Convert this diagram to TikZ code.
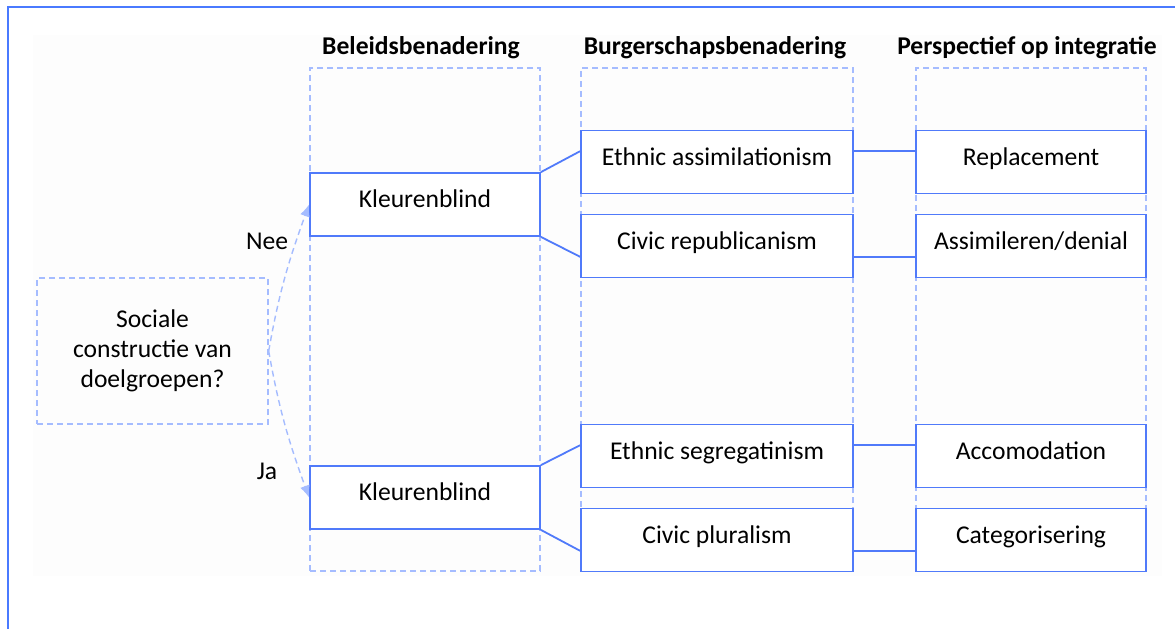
\documentclass[tikz,border=0pt]{standalone}
\usepackage{fontspec}
\setmainfont{Carlito}
\usetikzlibrary{arrows.meta, calc}
\definecolor{cFrame}{RGB}{74,122,255}
\definecolor{cLine}{RGB}{80,122,250}
\definecolor{cDash}{RGB}{165,188,255}
\tikzset{
	colbox/.style={rectangle, draw=cDash, line width=0.7pt, dash pattern=on 3pt off 2pt, minimum height=251.5pt},
	catbox/.style={rectangle, draw=cLine, fill=white, line width=0.9pt, minimum height=31.5pt, text height=8pt, text depth=5pt, font=\fontsize{12.8}{15}\selectfont},
	head/.style={font=\fontsize{12.8}{15}\selectfont\bfseries},
	conn/.style={draw=cLine, line width=0.9pt},
	flow/.style={draw=cDash, line width=0.7pt, dash pattern=on 3pt off 2pt, -{Latex[length=6pt,width=5pt]}},
}
\begin{document}
\begin{tikzpicture}[x=0.5pt, y=0.5pt]
	\useasboundingbox (0,0) rectangle (1175,-628);
	\clip (0,0) rectangle (1175,-628);
	\fill[black!0.6] (33,-35) rectangle (1162,-576);
	\draw[cFrame, line width=1.2pt] (8,-700) -- (8,-7) -- (1250,-7);
	% columns
	\node[colbox, minimum width=115pt] (col1) at (425,-319.5) {};
	\node[colbox, minimum width=136pt] (col2) at (717,-319.5) {};
	\node[colbox, minimum width=115pt] (col3) at (1031,-319.5) {};
	\node[head] (h1) at (421,-48) {Beleidsbenadering};
	\node[head] (h2) at (715,-48) {Burgerschapsbenadering};
	\node[head] (h3) at (1027,-48) {Perspectief op integratie};
	% start
	\node[rectangle, draw=cDash, line width=0.7pt, dash pattern=on 3pt off 2pt, minimum width=115.5pt, minimum height=73pt, align=center, font=\fontsize{12.8}{15}\selectfont] (soc) at (152.5,-351) {Sociale\\constructie van\\doelgroepen?};
	% boxes
	\node[catbox, minimum width=115pt] (kb1) at (425,-204.5) {Kleurenblind};
	\node[catbox, minimum width=115pt] (kb2) at (425,-497.5) {Kleurenblind};
	\node[catbox, minimum width=136pt] (ea) at (717,-162) {Ethnic assimilationism};
	\node[catbox, minimum width=136pt] (cr) at (717,-246) {Civic republicanism};
	\node[catbox, minimum width=136pt] (es) at (717,-456) {Ethnic segregatinism};
	\node[catbox, minimum width=136pt] (cp) at (717,-540) {Civic pluralism};
	\node[catbox, minimum width=115pt] (rp) at (1031,-162) {Replacement};
	\node[catbox, minimum width=115pt] (ad) at (1031,-246) {Assimileren/denial};
	\node[catbox, minimum width=115pt] (ac) at (1031,-456) {Accomodation};
	\node[catbox, minimum width=115pt] (ct) at (1031,-540) {Categorisering};
	% arrows
	\draw[flow] (soc.east) to[out=80,in=250] (kb1.west);
	\draw[flow] (soc.east) to[out=-80,in=110] (kb2.west);
	\node[font=\fontsize{12.8}{15}\selectfont] (nee) at (267,-241) {Nee};
	\node[font=\fontsize{12.8}{15}\selectfont] (ja) at (267,-471) {Ja};
	% connectors
	\draw[conn] (kb1.north east) -- ($(ea.north west)!1/3!(ea.south west)$);
	\draw[conn] (kb1.south east) -- ($(cr.north west)!2/3!(cr.south west)$);
	\draw[conn] (kb2.north east) -- ($(es.north west)!1/3!(es.south west)$);
	\draw[conn] (kb2.south east) -- ($(cp.north west)!2/3!(cp.south west)$);
	\draw[conn] ($(ea.north east)!1/3!(ea.south east)$) -- ($(rp.north west)!1/3!(rp.south west)$);
	\draw[conn] ($(cr.north east)!2/3!(cr.south east)$) -- ($(ad.north west)!2/3!(ad.south west)$);
	\draw[conn] ($(es.north east)!1/3!(es.south east)$) -- ($(ac.north west)!1/3!(ac.south west)$);
	\draw[conn] ($(cp.north east)!2/3!(cp.south east)$) -- ($(ct.north west)!2/3!(ct.south west)$);
\end{tikzpicture}
\end{document}
